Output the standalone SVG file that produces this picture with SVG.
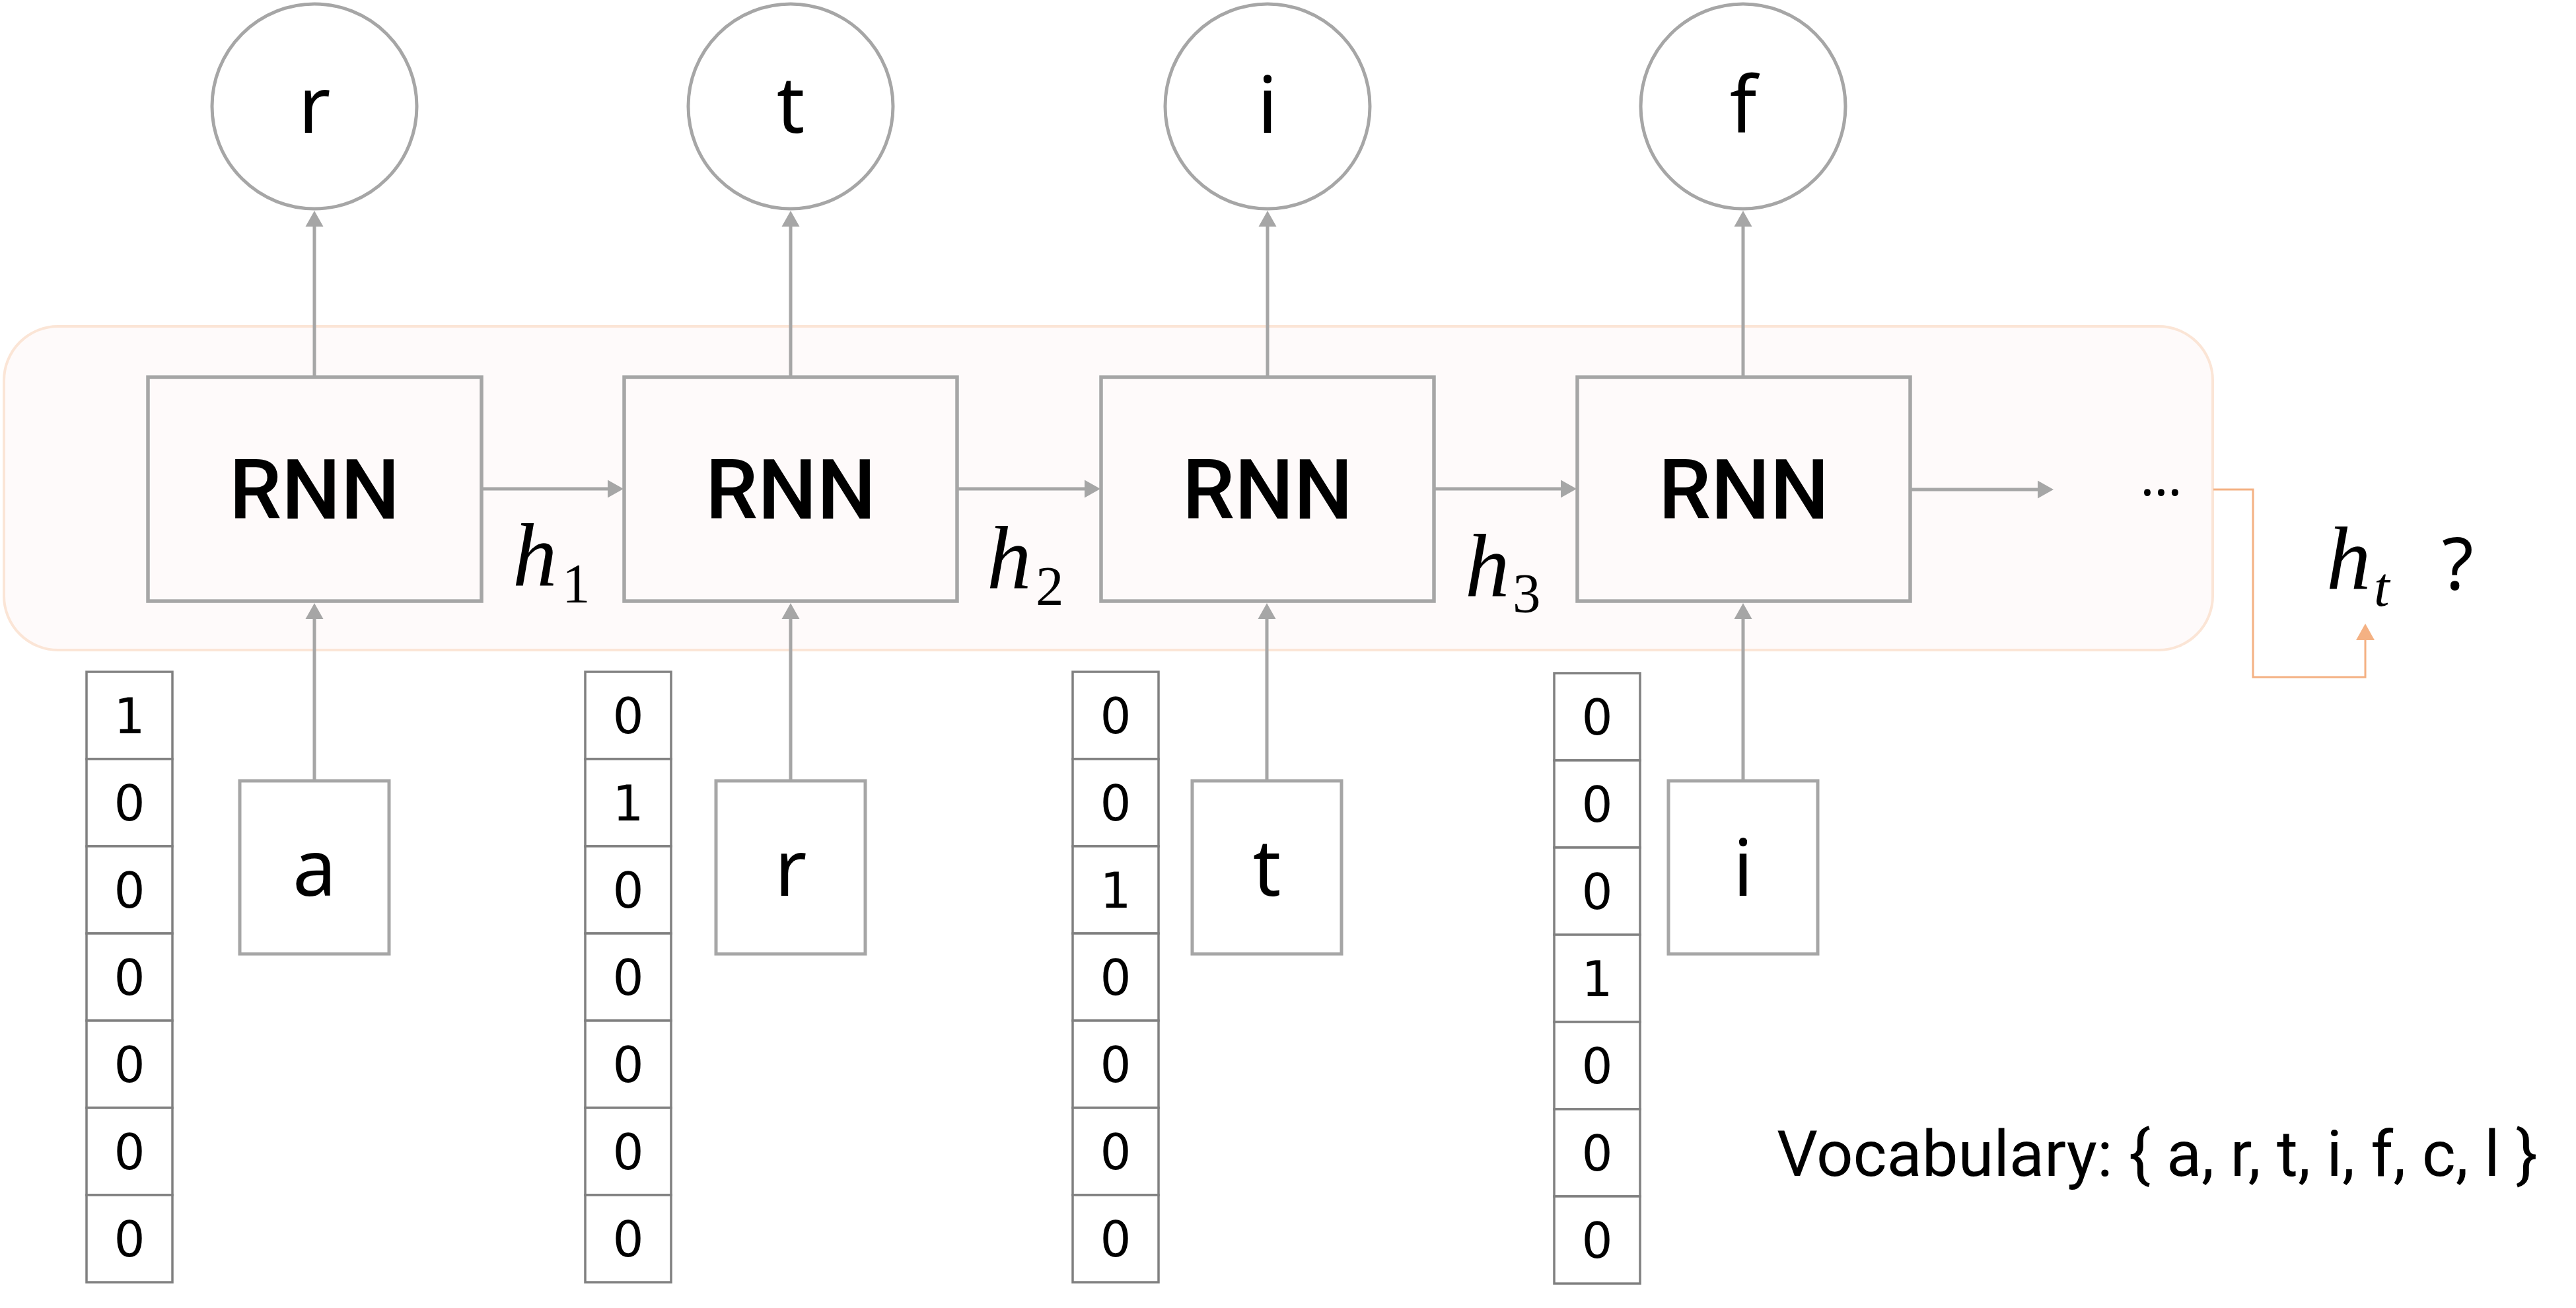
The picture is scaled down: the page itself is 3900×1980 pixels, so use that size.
<svg xmlns="http://www.w3.org/2000/svg" width="3900" height="1980" viewBox="0 0 3900 1980">
<style>
.bg{fill:#ffffff}
.cont{fill:#fefafa;stroke:#fbe5d6;stroke-width:4}
.rnn{fill:#fefafa;stroke:#a6a6a6;stroke-width:5.5}
.circ{fill:#ffffff;stroke:#a6a6a6;stroke-width:5}
.inb{fill:#ffffff;stroke:#a6a6a6;stroke-width:5}
.cell{fill:#ffffff;stroke:#808080;stroke-width:3.5}
.conn{fill:none;stroke:#a6a6a6;stroke-width:5}
.oconn{fill:none;stroke:#f4b183;stroke-width:3}
.t-rnn{font-family:Roboto,"Noto Sans","Liberation Sans",sans-serif;font-weight:500;font-size:126px;fill:#000;text-anchor:middle}
.t-let{font-family:"Noto Sans","Liberation Sans",sans-serif;font-size:118px;fill:#000;text-anchor:middle}
.t-dig{font-family:"DejaVu Sans","Liberation Sans",sans-serif;font-size:74px;fill:#000;text-anchor:middle}
.t-h{font-family:"Liberation Serif","DejaVu Serif",serif;font-size:135px;font-style:italic;fill:#000}
.t-sub{font-family:"Liberation Serif","DejaVu Serif",serif;font-size:85px;fill:#000}
.t-sans{font-family:"Noto Sans","Liberation Sans",sans-serif;fill:#000}
.t-voc{font-family:Roboto,"Noto Sans","Liberation Sans",sans-serif;font-weight:400;fill:#000}
</style>
<defs>
<marker id="ag" markerUnits="userSpaceOnUse" markerWidth="25" markerHeight="28" refX="0" refY="13.5" orient="auto" overflow="visible">
<path d="M0,0 L24,13.5 L0,27 z" fill="#a6a6a6"/>
</marker>
<marker id="ao" markerUnits="userSpaceOnUse" markerWidth="26" markerHeight="29" refX="0" refY="14" orient="auto" overflow="visible">
<path d="M0,0 L25,14 L0,28 z" fill="#f4b183"/>
</marker>
</defs>
<rect class="bg" x="0" y="0" width="3900" height="1980"/>

<g id="container">
<rect class="cont" x="6" y="494" width="3344" height="490" rx="82" ry="82"/>
</g>

<g id="connectors">
<line class="conn" x1="476" y1="571" x2="476" y2="343" marker-end="url(#ag)"/>
<line class="conn" x1="1197" y1="571" x2="1197" y2="343" marker-end="url(#ag)"/>
<line class="conn" x1="1919" y1="571" x2="1919" y2="343" marker-end="url(#ag)"/>
<line class="conn" x1="2639" y1="571" x2="2639" y2="343" marker-end="url(#ag)"/>
<line class="conn" x1="476" y1="1182" x2="476" y2="937" marker-end="url(#ag)"/>
<line class="conn" x1="1197" y1="1182" x2="1197" y2="937" marker-end="url(#ag)"/>
<line class="conn" x1="1918" y1="1182" x2="1918" y2="937" marker-end="url(#ag)"/>
<line class="conn" x1="2639" y1="1182" x2="2639" y2="937" marker-end="url(#ag)"/>
<line class="conn" x1="729" y1="740" x2="920" y2="740" marker-end="url(#ag)"/>
<line class="conn" x1="1449" y1="740" x2="1642" y2="740" marker-end="url(#ag)"/>
<line class="conn" x1="2171" y1="740" x2="2363" y2="740" marker-end="url(#ag)"/>
<line class="conn" x1="2892" y1="741" x2="3085" y2="741" marker-end="url(#ag)"/>
<path class="oconn" d="M3351,741 H3411 V1025 H3581 V969" marker-end="url(#ao)"/>
</g>

<g id="out-r"><circle class="circ" cx="476" cy="161" r="155"/><text class="t-let" x="476" y="201">r</text></g>
<g id="out-t"><circle class="circ" cx="1197" cy="161" r="155"/><text class="t-let" x="1197" y="201">t</text></g>
<g id="out-i"><circle class="circ" cx="1919" cy="161" r="155"/><text class="t-let" x="1919" y="201">i</text></g>
<g id="out-f"><circle class="circ" cx="2639" cy="161" r="155"/><text class="t-let" x="2639" y="201">f</text></g>

<g id="rnn1"><rect class="rnn" x="224" y="571" width="505" height="339"/><text class="t-rnn" x="476" y="785">RNN</text></g>
<g id="rnn2"><rect class="rnn" x="945" y="571" width="504" height="339"/><text class="t-rnn" x="1197" y="785">RNN</text></g>
<g id="rnn3"><rect class="rnn" x="1667" y="571" width="504" height="339"/><text class="t-rnn" x="1919" y="785">RNN</text></g>
<g id="rnn4"><rect class="rnn" x="2388" y="571" width="504" height="339"/><text class="t-rnn" x="2640" y="785">RNN</text></g>

<g id="in-a"><rect class="inb" x="363" y="1182" width="226" height="262"/><text class="t-let" x="476" y="1356">a</text></g>
<g id="in-r"><rect class="inb" x="1084" y="1182" width="226" height="262"/><text class="t-let" x="1197" y="1356">r</text></g>
<g id="in-t"><rect class="inb" x="1805" y="1182" width="226" height="262"/><text class="t-let" x="1918" y="1356">t</text></g>
<g id="in-i"><rect class="inb" x="2526" y="1182" width="226" height="262"/><text class="t-let" x="2639" y="1356">i</text></g>

<g id="vec1">
<rect class="cell" x="131" y="1017" width="130" height="132"/><text class="t-dig" x="196" y="1110">1</text>
<rect class="cell" x="131" y="1149" width="130" height="132"/><text class="t-dig" x="196" y="1242">0</text>
<rect class="cell" x="131" y="1281" width="130" height="132"/><text class="t-dig" x="196" y="1374">0</text>
<rect class="cell" x="131" y="1413" width="130" height="132"/><text class="t-dig" x="196" y="1506">0</text>
<rect class="cell" x="131" y="1545" width="130" height="132"/><text class="t-dig" x="196" y="1638">0</text>
<rect class="cell" x="131" y="1677" width="130" height="132"/><text class="t-dig" x="196" y="1770">0</text>
<rect class="cell" x="131" y="1809" width="130" height="132"/><text class="t-dig" x="196" y="1902">0</text>
</g>
<g id="vec2">
<rect class="cell" x="886" y="1017" width="130" height="132"/><text class="t-dig" x="951" y="1110">0</text>
<rect class="cell" x="886" y="1149" width="130" height="132"/><text class="t-dig" x="951" y="1242">1</text>
<rect class="cell" x="886" y="1281" width="130" height="132"/><text class="t-dig" x="951" y="1374">0</text>
<rect class="cell" x="886" y="1413" width="130" height="132"/><text class="t-dig" x="951" y="1506">0</text>
<rect class="cell" x="886" y="1545" width="130" height="132"/><text class="t-dig" x="951" y="1638">0</text>
<rect class="cell" x="886" y="1677" width="130" height="132"/><text class="t-dig" x="951" y="1770">0</text>
<rect class="cell" x="886" y="1809" width="130" height="132"/><text class="t-dig" x="951" y="1902">0</text>
</g>
<g id="vec3">
<rect class="cell" x="1624" y="1017" width="130" height="132"/><text class="t-dig" x="1689" y="1110">0</text>
<rect class="cell" x="1624" y="1149" width="130" height="132"/><text class="t-dig" x="1689" y="1242">0</text>
<rect class="cell" x="1624" y="1281" width="130" height="132"/><text class="t-dig" x="1689" y="1374">1</text>
<rect class="cell" x="1624" y="1413" width="130" height="132"/><text class="t-dig" x="1689" y="1506">0</text>
<rect class="cell" x="1624" y="1545" width="130" height="132"/><text class="t-dig" x="1689" y="1638">0</text>
<rect class="cell" x="1624" y="1677" width="130" height="132"/><text class="t-dig" x="1689" y="1770">0</text>
<rect class="cell" x="1624" y="1809" width="130" height="132"/><text class="t-dig" x="1689" y="1902">0</text>
</g>
<g id="vec4">
<rect class="cell" x="2353" y="1019" width="130" height="132"/><text class="t-dig" x="2418" y="1112">0</text>
<rect class="cell" x="2353" y="1151" width="130" height="132"/><text class="t-dig" x="2418" y="1244">0</text>
<rect class="cell" x="2353" y="1283" width="130" height="132"/><text class="t-dig" x="2418" y="1376">0</text>
<rect class="cell" x="2353" y="1415" width="130" height="132"/><text class="t-dig" x="2418" y="1508">1</text>
<rect class="cell" x="2353" y="1547" width="130" height="132"/><text class="t-dig" x="2418" y="1640">0</text>
<rect class="cell" x="2353" y="1679" width="130" height="132"/><text class="t-dig" x="2418" y="1772">0</text>
<rect class="cell" x="2353" y="1811" width="130" height="132"/><text class="t-dig" x="2418" y="1904">0</text>
</g>

<g id="label-h1"><text class="t-h" x="776" y="886">h</text><text class="t-sub" x="851" y="912">1</text></g>
<g id="label-h2"><text class="t-h" x="1494" y="890">h</text><text class="t-sub" x="1568" y="916">2</text></g>
<g id="label-h3"><text class="t-h" x="2218" y="902">h</text><text class="t-sub" x="2290" y="927">3</text></g>
<g id="label-ht"><text class="t-h" x="3522" y="891">h</text><text class="t-sub" x="3594" y="917" font-style="italic">t</text><text class="t-sans" x="3697" y="892" font-size="110">?</text></g>
<g id="ellipsis"><text class="t-sans" x="3272" y="750" font-size="80" text-anchor="middle">…</text></g>
<g id="vocab"><text class="t-voc" x="2690" y="1780" font-size="97" textLength="1152" lengthAdjust="spacingAndGlyphs">Vocabulary: { a, r, t, i, f, c, l }</text></g>
</svg>
